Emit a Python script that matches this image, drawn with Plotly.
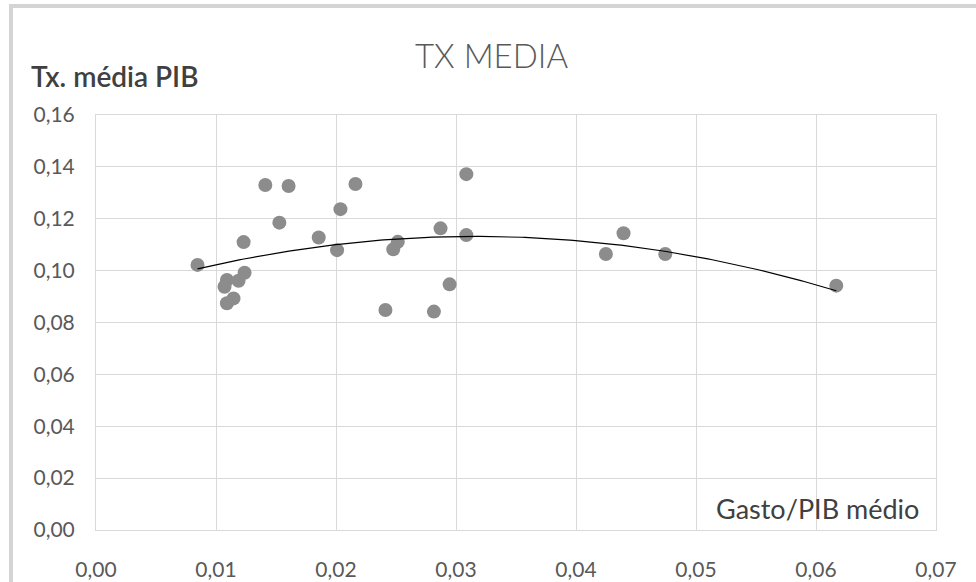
import numpy as np
import plotly.graph_objects as go

# Data
gasto_pib = [0.00846, 0.01411, 0.01605, 0.01528, 0.01230, 0.01238, 0.01188, 0.01091,
             0.01071, 0.01146, 0.01091, 0.02162, 0.02037, 0.01856, 0.02009, 0.02515,
             0.02477, 0.02412, 0.03086, 0.02871, 0.03086, 0.02947, 0.02816, 0.04396,
             0.04249, 0.04744, 0.06169]
tx_media = [0.1022, 0.1330, 0.1326, 0.1185, 0.1110, 0.0992, 0.0961, 0.0964,
            0.0938, 0.0893, 0.0874, 0.1334, 0.1237, 0.1128, 0.1079, 0.1111,
            0.1082, 0.0848, 0.1372, 0.1163, 0.1137, 0.0947, 0.0842, 0.1144,
            0.1064, 0.1064, 0.0942]
x_ticks = [0.00, 0.01, 0.02, 0.03, 0.04, 0.05, 0.06, 0.07]
y_ticks = [0.00, 0.02, 0.04, 0.06, 0.08, 0.10, 0.12, 0.14, 0.16]

W, H = 976, 582
L, R, T, B = 96, 936, 115, 530


def px(xp):
    return (xp - L) / (R - L)


def py(yp):
    return (B - yp) / (B - T)


# Polynomial (order 2) trendline fitted to the data
coef = np.polyfit(gasto_pib, tx_media, 2)
xt = np.linspace(min(gasto_pib), max(gasto_pib), 200)
yt = np.polyval(coef, xt)

FONT = "Lato"

fig = go.Figure()
fig.add_trace(go.Scatter(x=gasto_pib, y=tx_media, mode="markers",
                         marker=dict(size=14, color="#8c8c8c"),
                         showlegend=False, hoverinfo="x+y"))
fig.add_trace(go.Scatter(x=xt, y=yt, mode="lines",
                         line=dict(color="#000000", width=1.2),
                         showlegend=False, hoverinfo="skip"))

fig.update_layout(
    width=W, height=H,
    margin=dict(l=L, r=W - R, t=T, b=H - B, pad=0, autoexpand=False),
    paper_bgcolor="white", plot_bgcolor="white",
    separators=",.",
    font=dict(family=FONT, color="#595959", size=21),
    xaxis=dict(range=[0, 0.07], tickvals=x_ticks, tickformat=".2f",
               showgrid=True, gridcolor="#d9d9d9", gridwidth=1,
               zeroline=False, showline=True, linecolor="#d9d9d9", mirror=True,
               automargin=False, fixedrange=True,
               ticks="", ticklabelstandoff=21, tickfont=dict(size=21, color="#595959")),
    yaxis=dict(range=[0, 0.16], tickvals=y_ticks, tickformat=".2f",
               showgrid=True, gridcolor="#d9d9d9", gridwidth=1,
               zeroline=False, showline=True, linecolor="#d9d9d9", mirror=True,
               automargin=False, fixedrange=True,
               ticks="", ticklabelstandoff=16, tickfont=dict(size=21, color="#595959")),
    shapes=[
        dict(type="rect", xref="paper", yref="paper",
             x0=px(9), x1=px(W + 5), y0=py(8), y1=py(4),
             fillcolor="#d4d4d4", line=dict(width=0), layer="above"),
        dict(type="rect", xref="paper", yref="paper",
             x0=px(9), x1=px(13), y0=py(H + 5), y1=py(4),
             fillcolor="#d4d4d4", line=dict(width=0), layer="above"),
    ],
    annotations=[
        dict(text="TX MEDIA", xref="paper", yref="paper", x=px(491), y=py(55),
             xanchor="center", yanchor="middle", showarrow=False,
             font=dict(family=FONT, size=33, color="#595959", weight=300)),
        dict(text="Tx. média PIB", xref="paper", yref="paper", x=px(29), y=py(76),
             xanchor="left", yanchor="middle", showarrow=False,
             font=dict(family=FONT, size=28, color="#404040", weight=600)),
        dict(text="Gasto/PIB médio", xref="paper", yref="paper", x=px(921), y=py(508),
             xanchor="right", yanchor="middle", showarrow=False,
             font=dict(family=FONT, size=27, color="#404040")),
    ],
)

fig.write_html("out.html", config={"displayModeBar": False},
               post_script="document.body.style.margin='0px';")
